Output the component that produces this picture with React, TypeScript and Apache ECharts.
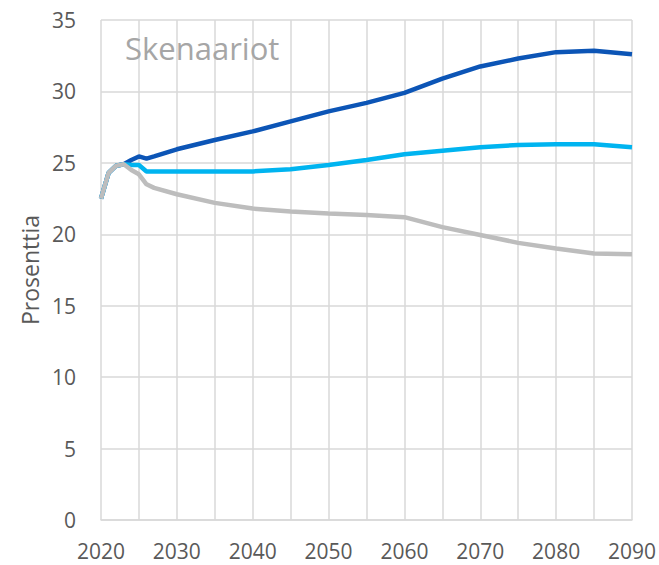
import React, { useEffect, useRef } from "react";
import * as echarts from "echarts";

const years = [2020, 2021, 2022, 2023, 2024, 2025, 2026, 2027, 2030, 2035, 2040, 2045, 2050, 2055, 2060, 2065, 2070, 2075, 2080, 2085, 2090];
const darkBlue = [22.5, 24.3, 24.8, 24.9, 25.2, 25.45, 25.3, 25.45, 25.95, 26.6, 27.2, 27.9, 28.6, 29.2, 29.9, 30.9, 31.75, 32.3, 32.75, 32.85, 32.6];
const lightBlue = [22.5, 24.3, 24.8, 24.9, 24.85, 24.85, 24.4, 24.4, 24.4, 24.4, 24.4, 24.55, 24.85, 25.2, 25.6, 25.85, 26.1, 26.25, 26.3, 26.3, 26.1];
const gray = [22.5, 24.3, 24.8, 24.9, 24.5, 24.2, 23.5, 23.25, 22.8, 22.2, 21.8, 21.6, 21.45, 21.35, 21.2, 20.5, 19.95, 19.4, 19.0, 18.65, 18.6];
const xTickLabels = [2020, 2030, 2040, 2050, 2060, 2070, 2080, 2090];
const titleText = "Skenaariot";
const yAxisName = "Prosenttia";

const FONT = "'Open Sans', 'Noto Sans', sans-serif";

export default function App() {
  const ref = useRef<HTMLDivElement>(null);
  useEffect(() => {
    if (!ref.current) return;
    const chart = echarts.init(ref.current, null, { renderer: "svg" });
    const pairs = (vals: number[]) => years.map((y, i) => [y, vals[i]]);
    chart.setOption({
      animation: false,
      backgroundColor: "#ffffff",
      grid: { left: 101, right: 27, top: 20, bottom: 45, containLabel: false },
      title: {
        text: titleText,
        left: 120,
        top: 27,
        textStyle: { fontFamily: FONT, fontSize: 31, fontWeight: "normal", color: "#a6a6a6" },
      },
      xAxis: {
        type: "value",
        min: 2020,
        max: 2090,
        interval: 5,
        axisLine: { show: true, lineStyle: { color: "#d9d9d9", width: 1.5 } },
        axisTick: { show: false },
        splitLine: { show: true, lineStyle: { color: "#d9d9d9", width: 1.5 } },
        axisLabel: {
          margin: 22,
          fontFamily: FONT,
          fontSize: 21,
          lineHeight: 18,
          color: "#595959",
          formatter: (v: number) => (xTickLabels.includes(v) ? String(v) : ""),
        },
      },
      yAxis: {
        type: "value",
        min: 0,
        max: 35,
        interval: 5,
        name: yAxisName,
        nameLocation: "middle",
        nameRotate: 90,
        nameGap: 60,
        nameTextStyle: { fontFamily: FONT, fontSize: 23, color: "#595959" },
        axisLine: { show: false },
        axisTick: { show: false },
        splitLine: { show: true, lineStyle: { color: "#d9d9d9", width: 1.5 } },
        axisLabel: { margin: 25, fontFamily: FONT, fontSize: 21, color: "#595959" },
      },
      series: [
        { type: "line", data: pairs(darkBlue), showSymbol: false, lineStyle: { color: "#0c55b6", width: 4.5 }, z: 3 },
        { type: "line", data: pairs(lightBlue), showSymbol: false, lineStyle: { color: "#00b4f0", width: 4.5 }, z: 4 },
        { type: "line", data: pairs(gray), showSymbol: false, lineStyle: { color: "#bdbdbd", width: 4.5 }, z: 5 },
      ],
    });
    return () => chart.dispose();
  }, []);
  return <div ref={ref} style={{ position: "fixed", left: 0, top: 0, width: 659, height: 565 }} />;
}
